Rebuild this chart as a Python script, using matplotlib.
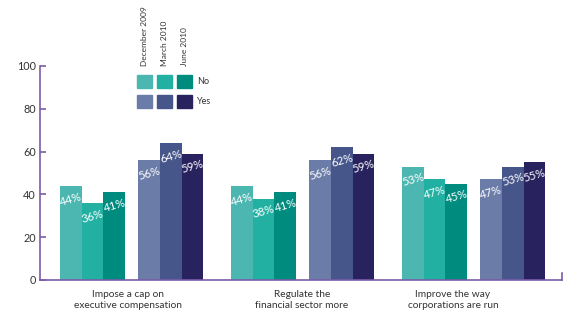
import matplotlib
matplotlib.use("Agg")
import matplotlib.pyplot as plt
from matplotlib.patches import Rectangle

# Survey data
categories = ["Impose a cap on\nexecutive compensation",
              "Regulate the\nfinancial sector more",
              "Improve the way\ncorporations are run"]
periods = ["December 2009", "March 2010", "June 2010"]
no_values = [[44, 36, 41], [44, 38, 41], [53, 47, 45]]
yes_values = [[56, 64, 59], [56, 62, 59], [47, 53, 55]]
y_ticks = [0, 20, 40, 60, 80, 100]

no_colors = ["#4cb6b1", "#22b0a3", "#008b7f"]
yes_colors = ["#6a7ca7", "#46568a", "#28235f"]
axis_color = "#7c5ca8"
text_color = "#333333"

plt.rcParams["font.family"] = ["Lato", "DejaVu Sans"]

W, H = 563, 321
fig = plt.figure(figsize=(W / 100, H / 100), dpi=100)
ax = fig.add_axes([40 / W, 41 / H, 522 / W, 214 / H])
ax.set_xlim(40, 562)
ax.set_ylim(0, 100)

# Layout (pixel-like units along x)
group_start = 60
group_pitch = 171
bar_w = 21.7
set_offset = 78.3
label_shift = [68, 71, 51]

for g in range(len(categories)):
    x0 = group_start + g * group_pitch
    for s, (vals, cols) in enumerate(((no_values, no_colors), (yes_values, yes_colors))):
        for j in range(len(periods)):
            x = x0 + s * set_offset + j * bar_w
            v = vals[g][j]
            ax.bar(x, v, width=bar_w, align="edge", color=cols[j],
                   edgecolor="none", zorder=2)
            ax.annotate(f"{v}%", (x + bar_w / 2, v), xytext=(0, -9.5),
                        textcoords="offset points", ha="center", va="center",
                        rotation=16, color="white", fontsize=8.3, zorder=3)
    ax.text(x0 + label_shift[g], -4.8, categories[g], ha="center", va="top",
            fontsize=7.3, color=text_color, linespacing=1.25)

# Axes styling
for side in ("top", "right"):
    ax.spines[side].set_visible(False)
for side in ("left", "bottom"):
    ax.spines[side].set_color(axis_color)
    ax.spines[side].set_linewidth(1.2)
ax.set_xticks([])
ax.set_yticks(y_ticks)
ax.tick_params(axis="y", direction="in", length=4, width=1.2,
               color=axis_color, labelsize=7.8, labelcolor=text_color, pad=3)
# small end tick on the baseline
ax.plot([561.5, 561.5], [0, 3.3], color=axis_color, lw=1.2, clip_on=False, zorder=4)

# Legend drawn in figure pixel coordinates
def fx(px):
    return px / W

def fy(py):
    return 1 - py / H

sq_x = [137.3, 157.3, 177.3]
sq_w, sq_h = 14.3, 13.3
rows = [(75, no_colors, "No"), (95, yes_colors, "Yes")]
for top, cols, name in rows:
    for j in range(len(periods)):
        fig.patches.append(Rectangle((fx(sq_x[j]), fy(top + sq_h)), sq_w / W, sq_h / H,
                                     transform=fig.transFigure, color=cols[j]))
    fig.text(fx(197), fy(top + sq_h / 2), name, ha="left", va="center",
             fontsize=6.5, color=text_color)
for j, p in enumerate(periods):
    fig.text(fx(sq_x[j] + sq_w / 2), fy(66.5), p, rotation=90, ha="center",
             va="bottom", fontsize=6, color=text_color)

fig.savefig("out.png", dpi=100, facecolor="white")
